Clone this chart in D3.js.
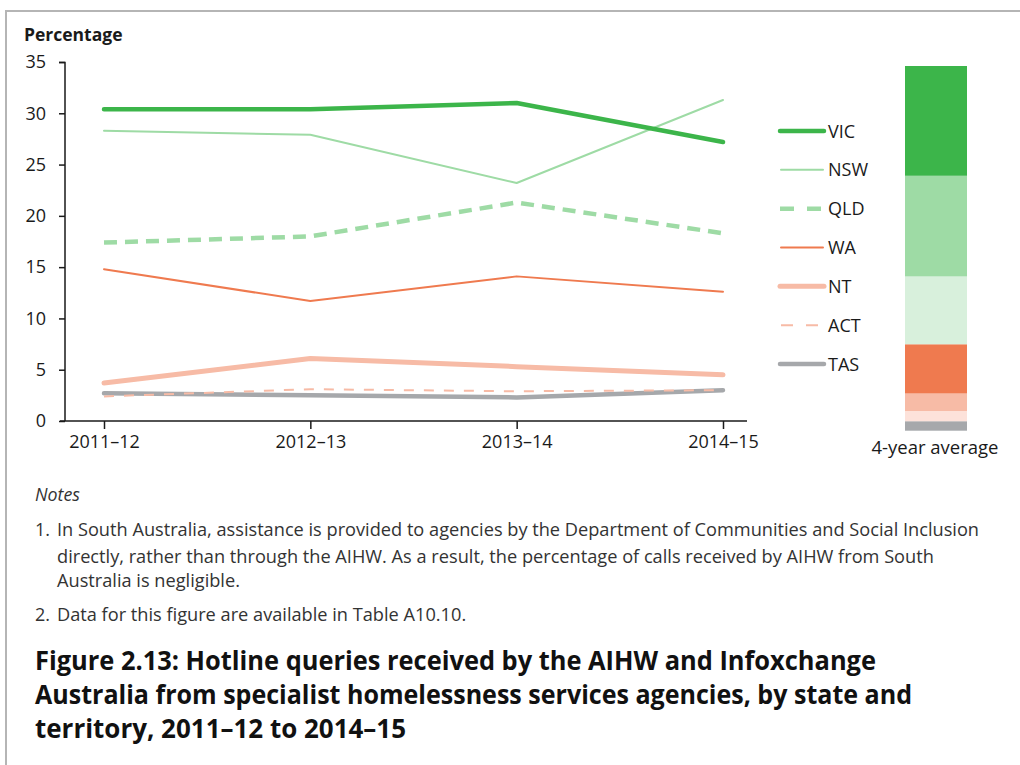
<!DOCTYPE html>
<html><head><meta charset="utf-8">
<script src="https://cdn.jsdelivr.net/npm/d3@7"></script>
<style>
body{margin:0;background:#fff;}
svg{display:block;}
text{fill:#1a1a1a;}
</style></head>
<body>
<svg id="c" width="1020" height="765"></svg>
<script>
// ---- data ----
const years = ["2011–12","2012–13","2013–14","2014–15"];
const states = ["VIC","NSW","QLD","WA","NT","ACT","TAS"];
const VIC = [30.4, 30.4, 31.0, 27.2];
const NSW = [28.3, 27.9, 23.2, 31.3];
const QLD = [17.4, 18.0, 21.3, 18.3];
const WA  = [14.8, 11.7, 14.1, 12.6];
const NT  = [3.7, 6.1, 5.3, 4.5];
const ACT = [2.4, 3.1, 2.9, 3.0];
const TAS = [2.7, 2.5, 2.3, 3.0];
const average = [30.1, 27.6, 18.6, 13.5, 4.8, 2.8, 2.6]; // 4-year average, same order as states
const yTicks = [0,5,10,15,20,25,30,35];

const seriesValues = {VIC, NSW, QLD, WA, NT, ACT, TAS};
const lineStyle = {
  VIC:{color:"#3cb54a", w:4.5, dash:null},
  NSW:{color:"#9edba5", w:2, dash:null},
  QLD:{color:"#9edba5", w:4.5, dash:"13,8"},
  WA:{color:"#ef7a4f", w:2, dash:null},
  NT:{color:"#f7bba6", w:5, dash:null},
  ACT:{color:"#f7bba6", w:2, dash:"10,10"},
  TAS:{color:"#a6a8ab", w:4.5, dash:null}
};
const barColor = {VIC:"#3cb54a",NSW:"#9edba5",QLD:"#d8f0dc",WA:"#ef7a4f",NT:"#f7bba6",ACT:"#fde2da",TAS:"#a6a8ab"};

const svg = d3.select("#c");
const F = "'Open Sans', 'Noto Sans', sans-serif";

// frame
svg.append("path").attr("d","M6,765 V11 H1020").attr("fill","none").attr("stroke","#b5b5b5").attr("stroke-width",2);

// scales
const x = d3.scalePoint().domain(years).range([104,723]);
const y = d3.scaleLinear().domain([0,35]).range([421,62]);

// y axis
const ya = svg.append("g").attr("transform","translate(65,0)")
  .call(d3.axisLeft(y).tickValues(yTicks).tickSize(6).tickPadding(13));
ya.select(".domain").attr("stroke","#1a1a1a").attr("stroke-width",1.5).attr("d","M-6,62.5H0V421");
ya.selectAll(".tick line").attr("stroke","#1a1a1a").attr("stroke-width",1.5);
ya.selectAll(".tick text").attr("font-family",F).attr("font-size",18).attr("fill","#1a1a1a");

// x axis
const xa = svg.append("g").attr("transform","translate(0,421)")
  .call(d3.axisBottom(x).tickSize(8).tickPadding(6));
xa.select(".domain").attr("d","M60,0H747").attr("stroke","#1a1a1a").attr("stroke-width",1.5);
xa.selectAll(".tick line").attr("stroke","#1a1a1a").attr("stroke-width",1.5);
xa.selectAll(".tick text").attr("font-family",F).attr("font-size",18).attr("fill","#1a1a1a");

svg.append("text").attr("x",24).attr("y",41).attr("font-family",F).attr("font-weight","bold")
  .attr("font-size",17.5).text("Percentage");

// lines (draw in reverse so VIC on top)
const line = d3.line().x((d,i)=>x(years[i])).y(d=>y(d));
states.slice().reverse().forEach(s=>{
  const st = lineStyle[s];
  svg.append("path").datum(seriesValues[s]).attr("d",line)
    .attr("fill","none").attr("stroke",st.color).attr("stroke-width",st.w)
    .attr("stroke-dasharray",st.dash).attr("stroke-linejoin","round").attr("stroke-linecap", st.dash?"butt":"round");
});

// legend
const lg = d3.scalePoint().domain(states).range([131,364]);
states.forEach(s=>{
  const st = lineStyle[s];
  const yy = lg(s);
  svg.append("line").attr("x1",s==="NSW"||s==="WA"||s==="ACT"?781:780).attr("x2",s==="NSW"||s==="WA"||s==="ACT"?823:824)
    .attr("y1",yy).attr("y2",yy).attr("stroke",st.color).attr("stroke-width",st.w)
    .attr("stroke-dasharray", s==="QLD"?"14,13":(s==="ACT"?"12,13":null))
    .attr("stroke-linecap", st.dash?"butt":"round");
  svg.append("text").attr("x",828).attr("y",yy+6.5).attr("font-family",F).attr("font-size",18).text(s);
});

// stacked bar (4-year average)
const yb = d3.scaleLinear().domain([0,100]).range([430.7,66]);
const stackData = [Object.fromEntries(states.map((s,i)=>[s,average[i]]))];
const stacked = d3.stack().keys(states.slice().reverse())(stackData);
stacked.forEach(layer=>{
  svg.append("rect").attr("x",905).attr("width",62)
    .attr("y",yb(layer[0][1])).attr("height",yb(layer[0][0])-yb(layer[0][1]))
    .attr("fill",barColor[layer.key]);
});
svg.append("text").attr("x",935).attr("y",454).attr("text-anchor","middle")
  .attr("font-family",F).attr("font-size",18.5).text("4-year average");

// helper: lines sharing one horizontal compression ratio fitted on the first line
function block(g, items, refWidth, fill){
  const els = items.map(it => g.append("text").attr("x",it[0]).attr("y",it[1]).text(it[2]).style("fill",fill));
  const ratio = refWidth / els[0].node().getComputedTextLength();
  els.forEach((el,i)=>{
    const w = items[i][3] || el.node().getComputedTextLength()*ratio;
    el.attr("textLength", w).attr("lengthAdjust","spacingAndGlyphs");
  });
  return ratio;
}

// notes
const notes = svg.append("g").attr("font-family",F).attr("font-size",18);
notes.append("text").attr("x",35).attr("y",501).attr("font-style","italic").style("fill","#333")
  .text("Notes").attr("textLength",45).attr("lengthAdjust","spacingAndGlyphs");
block(notes, [
  [57,536,"In South Australia, assistance is provided to agencies by the Department of Communities and Social Inclusion"],
  [57,563,"directly, rather than through the AIHW. As a result, the percentage of calls received by AIHW from South"],
  [57,587,"Australia is negligible."],
  [57,621,"Data for this figure are available in Table A10.10."]
], 922, "#333");
notes.append("text").attr("x",35).attr("y",536).text("1.").style("fill","#333");
notes.append("text").attr("x",35).attr("y",621).text("2.").style("fill","#333");

// title
const title = svg.append("g").attr("font-family",F).attr("font-weight","bold").attr("font-size",27);
block(title, [
  [35,670,"Figure 2.13: Hotline queries received by the AIHW and Infoxchange", 841],
  [35,704,"Australia from specialist homelessness services agencies, by state and", 877],
  [35,738,"territory, 2011–12 to 2014–15", 371]
], 841, "#111");
</script>
</body></html>
